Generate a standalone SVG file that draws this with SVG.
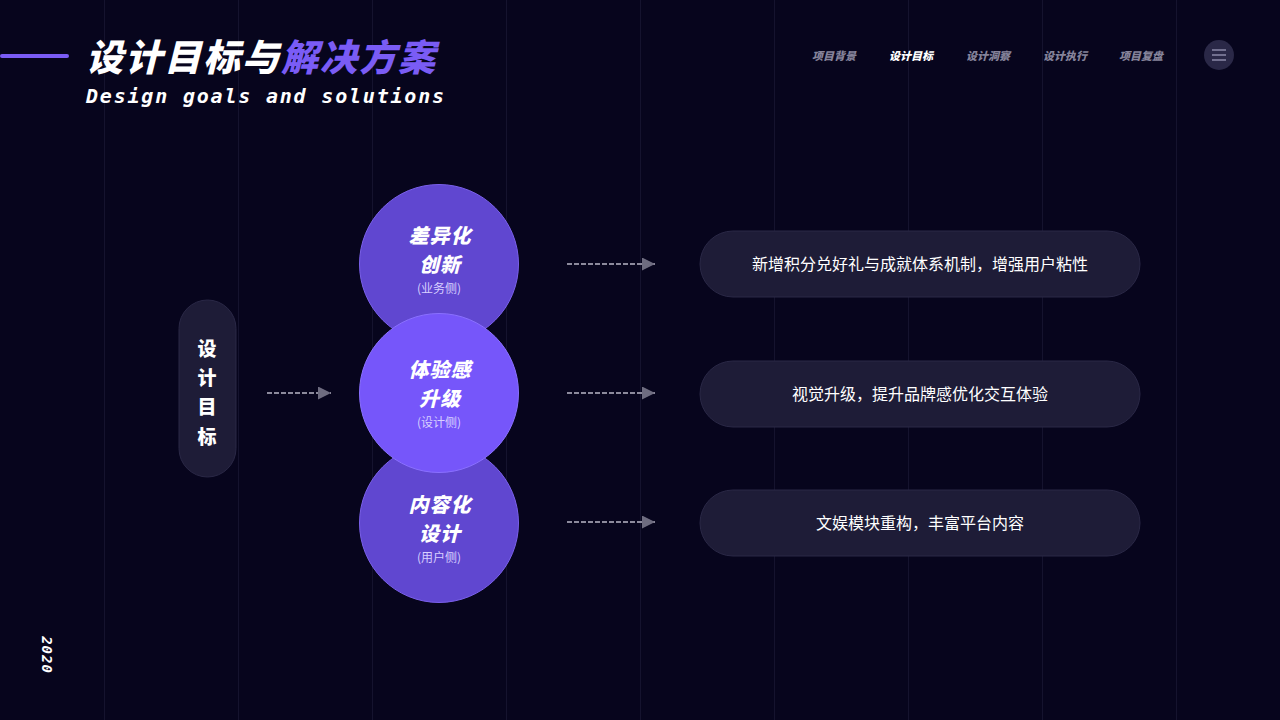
<svg xmlns="http://www.w3.org/2000/svg" width="1280" height="720" viewBox="0 0 1280 720">
<defs>
<style>
.grid{stroke:#15132e;stroke-width:1}
.nav{font-family:"Noto Sans CJK SC","Noto Sans",sans-serif;font-size:11px;font-weight:900;font-style:italic;fill:#85839a;text-anchor:middle}
.ttl{font-family:"Noto Sans CJK SC",sans-serif;font-weight:900;font-style:italic;fill:#fff;text-anchor:middle;font-size:20px;letter-spacing:1px}
.sub{font-family:"Noto Sans CJK SC",sans-serif;font-size:12px;fill:#d8d0ff;text-anchor:middle}
.pill{fill:#1e1c37;stroke:#2a2846;stroke-width:1}
.ptxt{font-family:"Noto Sans CJK SC",sans-serif;font-size:16px;fill:#fff;text-anchor:middle}
.dash{stroke:#8c8a9c;stroke-width:2;stroke-dasharray:5 2;fill:none}
.vt{font-family:"Noto Sans CJK SC",sans-serif;font-size:19px;font-weight:900;fill:#fff;text-anchor:middle}
</style>
<marker id="ah" viewBox="0 0 10 10" refX="10" refY="5" markerWidth="6.5" markerHeight="6.5" markerUnits="strokeWidth" orient="auto">
<path d="M0,0 L10,5 L0,10 z" fill="#6e6c80"/>
</marker>
</defs>
<rect width="1280" height="720" fill="#07051d"/>
<g id="grid">
<line class="grid" x1="104.5" y1="0" x2="104.5" y2="720"/>
<line class="grid" x1="238.5" y1="0" x2="238.5" y2="720"/>
<line class="grid" x1="372.5" y1="0" x2="372.5" y2="720"/>
<line class="grid" x1="506.5" y1="0" x2="506.5" y2="720"/>
<line class="grid" x1="640.5" y1="0" x2="640.5" y2="720"/>
<line class="grid" x1="774.5" y1="0" x2="774.5" y2="720"/>
<line class="grid" x1="908.5" y1="0" x2="908.5" y2="720"/>
<line class="grid" x1="1042.5" y1="0" x2="1042.5" y2="720"/>
<line class="grid" x1="1176.5" y1="0" x2="1176.5" y2="720"/>
</g>
<g id="header">
<line x1="2" y1="56" x2="67" y2="56" stroke="#7a5cf5" stroke-width="4" stroke-linecap="round"/>
<text x="86" y="71" font-family="Noto Sans CJK SC,sans-serif" font-size="37" font-weight="900" font-style="italic" fill="#fff" letter-spacing="2">设计目标与<tspan fill="#7a5cf5">解决方案</tspan></text>
<text x="86" y="103" font-family="DejaVu Sans Mono,monospace" font-size="20" font-weight="bold" font-style="italic" fill="#fff" letter-spacing="1.8">Design goals and solutions</text>
</g>
<g id="nav">
<text class="nav" x="834" y="60">项目背景</text>
<text class="nav" x="911" y="60" style="fill:#fff">设计目标</text>
<text class="nav" x="988" y="60">设计洞察</text>
<text class="nav" x="1065" y="60">设计执行</text>
<text class="nav" x="1141" y="60">项目复盘</text>
</g>
<g id="menu">
<circle cx="1219" cy="55" r="15" fill="#2a2847"/>
<path d="M1212 50H1226M1212 55H1226M1212 60H1226" stroke="#8a88a8" stroke-width="1.5"/>
</g>
<g id="year">
<text transform="translate(42,655) rotate(90)" font-family="DejaVu Sans Mono,monospace" font-size="14" font-weight="bold" font-style="italic" fill="#fff" text-anchor="middle" letter-spacing="1">2020</text>
</g>
<g id="goal">
<rect class="pill" x="179" y="300" width="57" height="177" rx="28.5"/>
<text class="vt" x="207" y="356">设<tspan x="207" dy="29">计</tspan><tspan x="207" dy="29">目</tspan><tspan x="207" dy="30">标</tspan></text>
</g>
<g id="connectors">
<line class="dash" x1="267" y1="393" x2="331" y2="393" marker-end="url(#ah)"/>
<line class="dash" x1="567" y1="264" x2="655" y2="264" marker-end="url(#ah)"/>
<line class="dash" x1="567" y1="393" x2="655" y2="393" marker-end="url(#ah)"/>
<line class="dash" x1="567" y1="522" x2="655" y2="522" marker-end="url(#ah)"/>
</g>
<g id="c1">
<circle cx="439" cy="264" r="79.5" fill="#6047d0" stroke="#7a60ea" stroke-width="1"/>
<text class="ttl" x="440" y="243">差异化<tspan x="440" dy="29">创新</tspan></text>
<text class="sub" x="439" y="293">(业务侧)</text>
</g>
<g id="c3">
<circle cx="439" cy="523" r="79.5" fill="#6047d0" stroke="#7a60ea" stroke-width="1"/>
<text class="ttl" x="440" y="512">内容化<tspan x="440" dy="29">设计</tspan></text>
<text class="sub" x="439" y="562">(用户侧)</text>
</g>
<g id="c2">
<circle cx="439" cy="393" r="79.5" fill="#7656fa" stroke="#8a70ff" stroke-width="1"/>
<text class="ttl" x="440" y="377">体验感<tspan x="440" dy="29">升级</tspan></text>
<text class="sub" x="439" y="427">(设计侧)</text>
</g>
<g id="p1">
<rect class="pill" x="700" y="231" width="440" height="66" rx="33"/>
<text class="ptxt" x="920" y="270">新增积分兑好礼与成就体系机制，增强用户粘性</text>
</g>
<g id="p2">
<rect class="pill" x="700" y="361" width="440" height="66" rx="33"/>
<text class="ptxt" x="920" y="400">视觉升级，提升品牌感优化交互体验</text>
</g>
<g id="p3">
<rect class="pill" x="700" y="490" width="440" height="66" rx="33"/>
<text class="ptxt" x="920" y="529">文娱模块重构，丰富平台内容</text>
</g>
</svg>
